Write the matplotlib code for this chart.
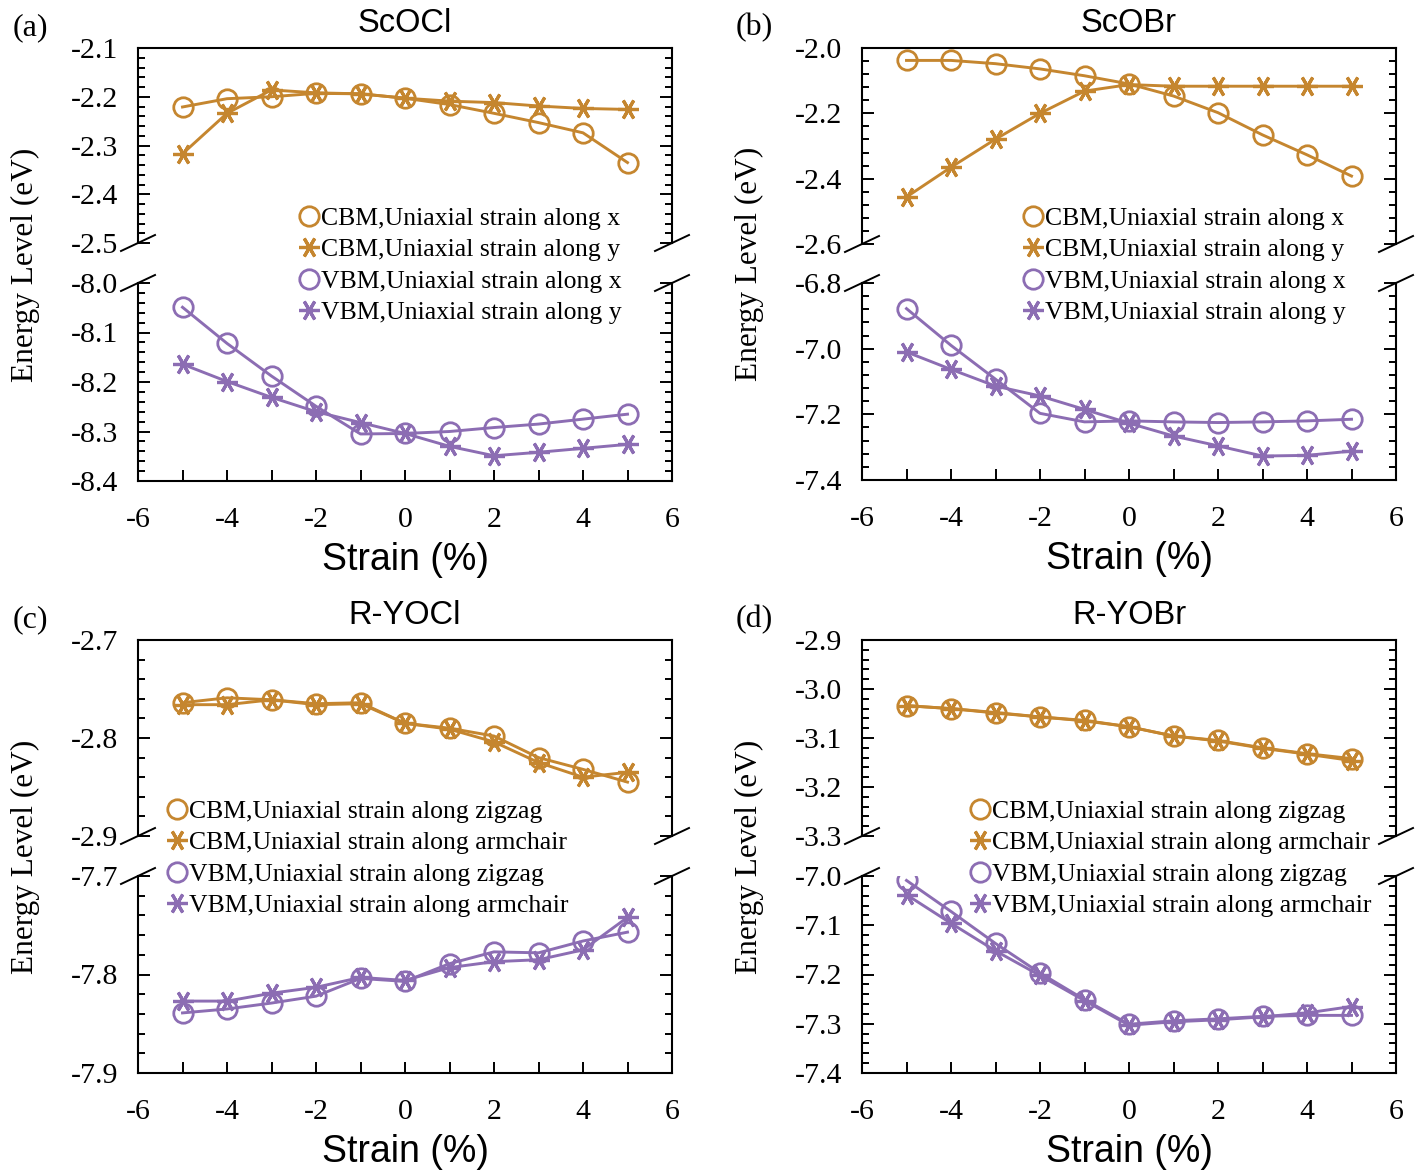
import matplotlib
matplotlib.use("Agg")
import matplotlib.pyplot as plt
from matplotlib.lines import Line2D
from matplotlib.ticker import MultipleLocator, FormatStrFormatter

plt.rcParams['axes.unicode_minus'] = False
plt.rcParams['font.family'] = ['Liberation Serif', 'DejaVu Serif']

strain = [-5, -4, -3, -2, -1, 0, 1, 2, 3, 4, 5]

# (a) ScOCl
a_cbm_x = [-2.221, -2.204, -2.200, -2.193, -2.194, -2.203, -2.216, -2.234, -2.253, -2.274, -2.335]
a_cbm_y = [-2.317, -2.234, -2.186, -2.192, -2.194, -2.203, -2.209, -2.212, -2.219, -2.224, -2.226]
a_vbm_x = [-8.049, -8.122, -8.188, -8.249, -8.305, -8.304, -8.300, -8.292, -8.285, -8.275, -8.265]
a_vbm_y = [-8.164, -8.199, -8.231, -8.260, -8.282, -8.304, -8.330, -8.349, -8.342, -8.334, -8.326]

# (b) ScOBr
b_cbm_x = [-2.038, -2.038, -2.048, -2.064, -2.085, -2.110, -2.147, -2.198, -2.266, -2.327, -2.392]
b_cbm_y = [-2.456, -2.365, -2.279, -2.200, -2.132, -2.112, -2.117, -2.117, -2.117, -2.117, -2.117]
b_vbm_x = [-6.878, -6.990, -7.093, -7.197, -7.223, -7.220, -7.223, -7.225, -7.223, -7.220, -7.215]
b_vbm_y = [-7.010, -7.063, -7.114, -7.144, -7.185, -7.227, -7.266, -7.296, -7.327, -7.325, -7.312]

# (c) R-YOCl
c_cbm_z = [-2.764, -2.759, -2.761, -2.765, -2.764, -2.785, -2.790, -2.798, -2.820, -2.832, -2.845]
c_cbm_a = [-2.766, -2.766, -2.761, -2.766, -2.765, -2.785, -2.791, -2.804, -2.825, -2.840, -2.835]
c_vbm_z = [-7.839, -7.835, -7.829, -7.822, -7.804, -7.807, -7.789, -7.777, -7.778, -7.766, -7.757]
c_vbm_a = [-7.827, -7.827, -7.819, -7.813, -7.803, -7.806, -7.793, -7.787, -7.785, -7.775, -7.742]

# (d) R-YOBr
d_cbm_z = [-3.034, -3.040, -3.048, -3.057, -3.064, -3.077, -3.096, -3.105, -3.120, -3.132, -3.142]
d_cbm_a = [-3.034, -3.040, -3.049, -3.057, -3.065, -3.077, -3.096, -3.106, -3.121, -3.133, -3.146]
d_vbm_z = [-7.009, -7.072, -7.137, -7.197, -7.251, -7.301, -7.294, -7.290, -7.285, -7.283, -7.283]
d_vbm_a = [-7.038, -7.096, -7.152, -7.202, -7.253, -7.303, -7.296, -7.292, -7.286, -7.278, -7.265]

titles = ["ScOCl", "ScOBr", "R-YOCl", "R-YOBr"]
panel_tags = ["(a)", "(b)", "(c)", "(d)"]
labels_xy = ["CBM,Uniaxial strain along x", "CBM,Uniaxial strain along y",
             "VBM,Uniaxial strain along x", "VBM,Uniaxial strain along y"]
labels_za = ["CBM,Uniaxial strain along zigzag", "CBM,Uniaxial strain along armchair",
             "VBM,Uniaxial strain along zigzag", "VBM,Uniaxial strain along armchair"]

ORANGE = "#C5862F"
PURPLE = "#8C6DB3"
STAR = (6, 2, 90)

W, H = 1426, 1173
fig = plt.figure(figsize=(W / 100, H / 100), dpi=100)

SANS = ['Liberation Sans', 'DejaVu Sans']
MS = 14
MEW = 2.0
SMS = 15
SMEW = 2.3
LW = 2.1


def frac_rect(left, right, top, bottom):
    return [left / W, 1 - bottom / H, (right - left) / W, (bottom - top) / H]


def style_axis(ax, ymin, ymax, major, minor):
    ax.set_xlim(-6, 6)
    ax.set_ylim(ymin, ymax)
    ax.yaxis.set_major_locator(MultipleLocator(major))
    ax.yaxis.set_minor_locator(MultipleLocator(minor))
    ax.yaxis.set_major_formatter(FormatStrFormatter('%.1f'))
    ax.tick_params(axis='y', which='both', direction='in', left=True, right=True,
                   labelsize=21.5, pad=14, width=1.4)
    ax.tick_params(axis='y', which='major', length=8.5)
    ax.tick_params(axis='y', which='minor', length=5)
    for s in ax.spines.values():
        s.set_linewidth(1.5)


def add_break(ax, where, axw, axh):
    dx = 17 / axw
    dy = 8 / axh
    y0 = 0 if where == 'bottom' else 1
    for x0 in (0, 1):
        ax.plot([x0 - dx, x0 + dx], [y0 - dy, y0 + dy], color='k', lw=1.4,
                transform=ax.transAxes, clip_on=False)


def panel(left, right, top1, bot1, top2, bot2, ylim1, ylim2, major, minor,
          cbm1, cbm2, vbm1, vbm2, labels, title, tag, legxy):
    axt = fig.add_axes(frac_rect(left, right, top1, bot1))
    axb = fig.add_axes(frac_rect(left, right, top2, bot2))
    style_axis(axt, ylim1[0], ylim1[1], major, minor)
    style_axis(axb, ylim2[0], ylim2[1], major, minor)
    axt.spines['bottom'].set_visible(False)
    axb.spines['top'].set_visible(False)
    axt.tick_params(axis='x', which='both', bottom=False, top=False, labelbottom=False)
    axb.xaxis.set_major_locator(MultipleLocator(2))
    axb.xaxis.set_minor_locator(MultipleLocator(1))
    axb.tick_params(axis='x', which='both', direction='in', bottom=True, top=False,
                    length=8, width=1.4, labelsize=21.5, pad=19)
    ckw = dict(lw=LW, markersize=MS, mew=MEW, mfc='none')
    skw = dict(lw=LW, markersize=SMS, mew=SMEW)
    axt.plot(strain, cbm1, color=ORANGE, marker='o', mec=ORANGE, **ckw)
    axt.plot(strain, cbm2, color=ORANGE, marker=STAR, mec=ORANGE, **skw)
    axb.plot(strain, vbm1, color=PURPLE, marker='o', mec=PURPLE, **ckw)
    axb.plot(strain, vbm2, color=PURPLE, marker=STAR, mec=PURPLE, **skw)
    axw = right - left
    add_break(axt, 'bottom', axw, bot1 - top1)
    add_break(axb, 'top', axw, bot2 - top2)
    axb.set_xlabel("Strain (%)", family=SANS, fontsize=27, labelpad=6)

    handles = [
        Line2D([], [], ls='none', marker='o', mfc='none', mec=ORANGE, markersize=MS, mew=MEW),
        Line2D([], [], ls='none', marker=STAR, mec=ORANGE, markersize=SMS, mew=SMEW),
        Line2D([], [], ls='none', marker='o', mfc='none', mec=PURPLE, markersize=MS, mew=MEW),
        Line2D([], [], ls='none', marker=STAR, mec=PURPLE, markersize=SMS, mew=SMEW),
    ]
    fig.legend(handles, labels, loc='upper left',
               bbox_to_anchor=(legxy[0] / W, 1 - legxy[1] / H),
               frameon=False, fontsize=18.5, handlelength=0.7, handletextpad=0.1,
               labelspacing=0.33, borderpad=0, borderaxespad=0)

    cx = (left + right) / 2
    fig.text(cx / W, 1 - (top1 - 25) / H, title, family=SANS, fontsize=23.5,
             ha='center', va='center')
    fig.text((left - 108) / W, 1 - (top1 - 20) / H, tag, fontsize=23,
             ha='center', va='center')
    fig.text((left - 113) / W, 1 - ((top1 + bot2) / 2) / H, "Energy Level (eV)",
             fontsize=22.5, rotation=90, ha='center', va='center')


panel(138, 672, 48, 243, 283, 481, (-2.5, -2.1), (-8.4, -8.0), 0.1, 0.02,
      a_cbm_x, a_cbm_y, a_vbm_x, a_vbm_y, labels_xy, titles[0], panel_tags[0], (300, 207))
panel(862, 1396, 48, 244, 283, 480, (-2.6, -2.0), (-7.4, -6.8), 0.2, 0.04,
      b_cbm_x, b_cbm_y, b_vbm_x, b_vbm_y, labels_xy, titles[1], panel_tags[1], (1024, 207))
panel(138, 672, 640, 836, 876, 1073, (-2.9, -2.7), (-7.9, -7.7), 0.1, 0.02,
      c_cbm_z, c_cbm_a, c_vbm_z, c_vbm_a, labels_za, titles[2], panel_tags[2], (168, 800))
panel(862, 1396, 640, 836, 876, 1073, (-3.3, -2.9), (-7.4, -7.0), 0.1, 0.02,
      d_cbm_z, d_cbm_a, d_vbm_z, d_vbm_a, labels_za, titles[3], panel_tags[3], (971, 800))

fig.savefig("out.png", dpi=100)
